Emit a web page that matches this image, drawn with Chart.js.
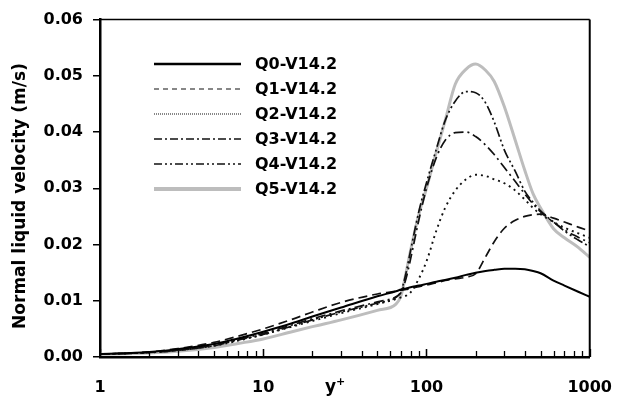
<!DOCTYPE html>
<html>
<head>
<meta charset="utf-8">
<script src="https://cdn.jsdelivr.net/npm/chart.js@4.4.1/dist/chart.umd.min.js"></script>
<style>
  html, body { margin: 0; padding: 0; background: #fff; }
  canvas { display: block; }
</style>
</head>
<body>
<canvas id="velChart" width="633" height="399"></canvas>
<script>
// y+ positions (log axis)
const yPlus = [1, 2, 3, 5, 7, 10, 15, 20, 30, 50, 65, 70, 75, 80, 90, 100, 115, 130, 150, 175, 200, 230, 260, 300, 350, 400, 450, 500, 600, 700, 850, 1000];

// normal liquid velocity (m/s) for each case
const q0 = [0.0005, 0.0009, 0.0014, 0.0023, 0.0033, 0.0045, 0.0060, 0.0072, 0.0088, 0.0108, 0.0117, 0.0120, 0.0122, 0.0124, 0.0127, 0.0130, 0.0134, 0.0137, 0.0141, 0.0146, 0.0150, 0.0153, 0.0155, 0.0157, 0.0157, 0.0156, 0.0153, 0.0149, 0.0136, 0.0127, 0.0116, 0.0107];
const q1 = [0.0005, 0.0009, 0.0015, 0.0026, 0.0037, 0.0050, 0.0067, 0.0080, 0.0097, 0.0112, 0.0117, 0.0119, 0.0120, 0.0122, 0.0125, 0.0128, 0.0132, 0.0136, 0.0139, 0.0142, 0.0148, 0.0178, 0.0205, 0.0229, 0.0243, 0.0250, 0.0253, 0.0254, 0.0247, 0.0240, 0.0231, 0.0224];
const q2 = [0.0005, 0.0008, 0.0012, 0.0020, 0.0029, 0.0040, 0.0054, 0.0064, 0.0078, 0.0094, 0.0103, 0.0106, 0.0109, 0.0115, 0.0140, 0.0170, 0.0225, 0.0265, 0.0296, 0.0316, 0.0324, 0.0322, 0.0316, 0.0309, 0.0296, 0.0280, 0.0265, 0.0254, 0.0240, 0.0230, 0.0220, 0.0212];
const q3 = [0.0005, 0.0008, 0.0012, 0.0021, 0.0031, 0.0042, 0.0057, 0.0068, 0.0082, 0.0098, 0.0107, 0.0115, 0.0140, 0.0175, 0.0245, 0.0300, 0.0355, 0.0385, 0.0399, 0.0400, 0.0392, 0.0377, 0.0360, 0.0337, 0.0312, 0.0290, 0.0272, 0.0258, 0.0240, 0.0226, 0.0213, 0.0203];
const q4 = [0.0005, 0.0008, 0.0012, 0.0020, 0.0030, 0.0040, 0.0055, 0.0066, 0.0080, 0.0096, 0.0106, 0.0118, 0.0150, 0.0190, 0.0260, 0.0310, 0.0370, 0.0420, 0.0455, 0.0472, 0.0470, 0.0452, 0.0418, 0.0368, 0.0330, 0.0295, 0.0275, 0.0260, 0.0240, 0.0224, 0.0208, 0.0196];
const q5 = [0.0005, 0.0007, 0.0010, 0.0017, 0.0024, 0.0032, 0.0045, 0.0054, 0.0066, 0.0083, 0.0094, 0.0110, 0.0150, 0.0190, 0.0255, 0.0300, 0.0365, 0.0420, 0.0485, 0.0512, 0.0521, 0.0510, 0.0490, 0.0445, 0.0385, 0.0332, 0.0290, 0.0265, 0.0228, 0.0212, 0.0195, 0.0177];

const seriesNames = ['Q0-V14.2', 'Q1-V14.2', 'Q2-V14.2', 'Q3-V14.2', 'Q4-V14.2', 'Q5-V14.2'];
const yTickLabels = ['0.00', '0.01', '0.02', '0.03', '0.04', '0.05', '0.06'];
const decades = [1, 10, 100];

const FONT = '"DejaVu Sans", sans-serif';

function isPow10(v) {
    const l = Math.log10(v);
    return Math.abs(l - Math.round(l)) < 1e-6;
}

function pts(vals) {
    return yPlus.map((x, i) => ({ x: x, y: vals[i] }));
}

// frame on top/right, inward x ticks, axis titles and the legend inside the plot
const extras = {
    id: 'extras',
    afterDraw(chart) {
        const ctx = chart.ctx;
        const area = chart.chartArea;
        const xs = chart.scales.x;
        ctx.save();

        ctx.strokeStyle = '#000';
        ctx.lineWidth = 1.5;
        ctx.beginPath();
        ctx.moveTo(area.left, area.top);
        ctx.lineTo(area.right, area.top);
        ctx.stroke();
        ctx.lineWidth = 2;
        ctx.beginPath();
        ctx.moveTo(area.right, area.top);
        ctx.lineTo(area.right, area.bottom);
        ctx.stroke();

        // log ticks pointing into the plot
        ctx.lineWidth = 1.3;
        decades.forEach(d => {
            for (let k = 1; k <= 10; k++) {
                const v = d * k;
                const px = Math.round(xs.getPixelForValue(v)) + 0.5;
                const len = k === 1 || k === 10 ? 8 : 6;
                ctx.beginPath();
                ctx.moveTo(px, area.bottom);
                ctx.lineTo(px, area.bottom - len);
                ctx.stroke();
            }
        });

        ctx.fillStyle = '#000';

        // y axis title
        ctx.save();
        ctx.translate(21, 196);
        ctx.rotate(-Math.PI / 2);
        ctx.textAlign = 'center';
        ctx.textBaseline = 'middle';
        ctx.font = 'bold 17px ' + FONT;
        ctx.fillText('Normal liquid velocity (m/s)', 0, 0);
        ctx.restore();

        // x axis title y+
        ctx.textBaseline = 'alphabetic';
        ctx.textAlign = 'left';
        ctx.font = 'bold 17px ' + FONT;
        ctx.fillText('y', 325, 392);
        ctx.font = 'bold 11px ' + FONT;
        ctx.fillText('+', 336, 385);

        // legend
        const rowY = [64, 89, 114, 139, 164, 189];
        chart.data.datasets.forEach((ds, i) => {
            ctx.strokeStyle = ds.borderColor;
            ctx.lineWidth = ds.legendWidth;
            ctx.setLineDash(ds.legendDash || []);
            ctx.beginPath();
            ctx.moveTo(154, rowY[i]);
            ctx.lineTo(241, rowY[i]);
            ctx.stroke();
            ctx.setLineDash([]);
            ctx.fillStyle = '#000';
            ctx.font = 'bold 16px ' + FONT;
            ctx.textBaseline = 'middle';
            ctx.fillText(ds.label, 255, rowY[i] + 1);
        });

        ctx.restore();
    }
};

const ctx = document.getElementById('velChart').getContext('2d');

const chart = new Chart(ctx, {
    type: 'line',
    data: {
        datasets: [
            { label: seriesNames[0], data: pts(q0), borderColor: '#000', borderWidth: 2, legendWidth: 2.5 },
            { label: seriesNames[1], data: pts(q1), borderColor: '#111', borderWidth: 1.7, legendWidth: 1.2, borderDash: [9, 5], legendDash: [5, 4] },
            { label: seriesNames[2], data: pts(q2), borderColor: '#111', borderWidth: 1.9, legendWidth: 1, borderDash: [2, 4], legendDash: [1, 1] },
            { label: seriesNames[3], data: pts(q3), borderColor: '#111', borderWidth: 1.7, legendWidth: 1.5, borderDash: [10, 4, 2, 4], legendDash: [8, 3, 2, 3] },
            { label: seriesNames[4], data: pts(q4), borderColor: '#111', borderWidth: 1.7, legendWidth: 1.5, borderDash: [10, 3, 2, 3, 2, 3], legendDash: [8, 3, 2, 3, 2, 3] },
            { label: seriesNames[5], data: pts(q5), borderColor: '#bdbdbd', borderWidth: 3, legendWidth: 4, order: 10 }
        ]
    },
    options: {
        responsive: false,
        animation: false,
        devicePixelRatio: 1,
        layout: { padding: { top: 16, right: 36, left: 0, bottom: 0 } },
        elements: {
            point: { radius: 0 },
            line: { cubicInterpolationMode: 'monotone', fill: false }
        },
        plugins: {
            legend: { display: false },
            tooltip: { enabled: false }
        },
        scales: {
            x: {
                type: 'logarithmic',
                min: 1,
                max: 1000,
                grid: { display: false, drawTicks: false },
                border: { display: true, color: '#000', width: 2.5 },
                ticks: {
                    color: '#000',
                    font: { family: FONT, size: 16, weight: 'bold' },
                    padding: 21,
                    autoSkip: false,
                    maxRotation: 0,
                    callback: v => (isPow10(v) ? String(Math.round(v)) : '')
                },
                afterFit(s) { s.height = 42; }
            },
            y: {
                type: 'linear',
                min: 0,
                max: 0.06,
                grid: { drawOnChartArea: false, drawTicks: true, tickLength: 7, color: '#000', lineWidth: 1.5 },
                border: { display: true, color: '#000', width: 2.5 },
                ticks: {
                    stepSize: 0.01,
                    color: '#000',
                    font: { family: FONT, size: 16, weight: 'bold' },
                    padding: 10,
                    callback: v => yTickLabels[Math.round(v * 100)]
                },
                afterFit(s) { s.width = 100; }
            }
        }
    },
    plugins: [extras]
});
</script>
</body>
</html>
